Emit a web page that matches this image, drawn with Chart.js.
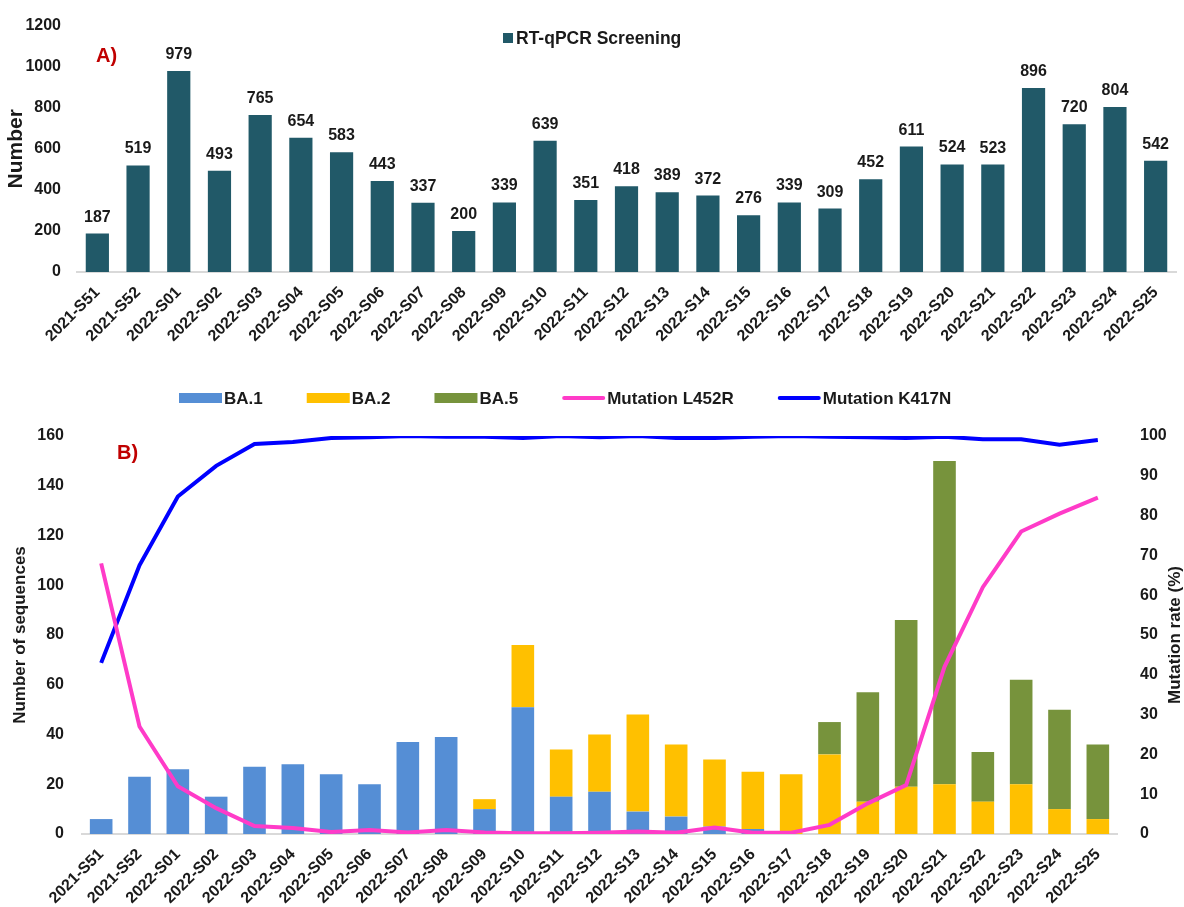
<!DOCTYPE html>
<html>
<head>
<meta charset="utf-8">
<script src="https://cdn.jsdelivr.net/npm/chart.js@4.4.1/dist/chart.umd.min.js"></script>
<style>
  body { margin: 0; background: #fff; }
  #boxA { position: absolute; left: 0; top: 0; width: 1184px; height: 365px; }
  #boxB { position: absolute; left: 0; top: 367px; width: 1184px; height: 540px; }
</style>
</head>
<body>
<div id="boxA"><canvas id="chartA"></canvas></div>
<div id="boxB"><canvas id="chartB"></canvas></div>
<script>
const weeks = [
  "2021-S51", "2021-S52", "2022-S01", "2022-S02", "2022-S03", "2022-S04", "2022-S05",
  "2022-S06", "2022-S07", "2022-S08", "2022-S09", "2022-S10", "2022-S11", "2022-S12",
  "2022-S13", "2022-S14", "2022-S15", "2022-S16", "2022-S17", "2022-S18", "2022-S19",
  "2022-S20", "2022-S21", "2022-S22", "2022-S23", "2022-S24", "2022-S25"
];

// A) RT-qPCR screening counts
const screening = [187, 519, 979, 493, 765, 654, 583, 443, 337, 200, 339, 639, 351, 418,
  389, 372, 276, 339, 309, 452, 611, 524, 523, 896, 720, 804, 542];

// B) sequences per lineage
const ba1 = [6, 23, 26, 15, 27, 28, 24, 20, 37, 39, 10, 51, 15, 17, 9, 7, 3, 2, 0, 0, 0, 0, 0, 0, 0, 0, 0];
const ba2 = [0, 0, 0, 0, 0, 0, 0, 0, 0, 0, 4, 25, 19, 23, 39, 29, 27, 23, 24, 32, 13, 19, 20, 13, 20, 10, 6];
const ba5 = [0, 0, 0, 0, 0, 0, 0, 0, 0, 0, 0, 0, 0, 0, 0, 0, 0, 0, 0, 13, 44, 67, 130, 20, 42, 40, 30];

// B) mutation rates (%)
const l452r = [68, 27, 12, 6.5, 2, 1.5, 0.5, 1, 0.4, 1, 0.4, 0.2, 0.2, 0.3, 0.6, 0.3, 1.6, 0.3, 0.3,
  2.3, 7.7, 12.3, 42, 62, 76, 80.5, 84.5];
const k417n = [43, 67.5, 84.8, 92.5, 98, 98.5, 99.5, 99.7, 100, 99.8, 99.8, 99.5, 100, 99.7, 100,
  99.5, 99.5, 99.8, 100, 99.8, 99.7, 99.5, 99.8, 99.2, 99.2, 97.8, 99];

const yTicksA = [0, 200, 400, 600, 800, 1000, 1200];

const SANS = '"Liberation Sans", Arial, sans-serif';
const INK = "#1a1a1a";

Chart.defaults.font.family = SANS;
Chart.defaults.color = INK;

const plain = (v) => String(v);

// value labels above the bars + legend + panel letter for chart A
const decorA = {
  id: "decorA",
  afterDatasetsDraw(chart) {
    const ctx = chart.ctx;
    const meta = chart.getDatasetMeta(0);
    ctx.save();
    ctx.font = "bold 16px " + SANS;
    ctx.fillStyle = INK;
    ctx.textAlign = "center";
    ctx.textBaseline = "alphabetic";
    meta.data.forEach((bar, i) => {
      ctx.fillText(chart.data.datasets[0].data[i], bar.x, bar.y - 12);
    });

    // legend
    const ds = chart.data.datasets[0];
    ctx.fillStyle = ds.backgroundColor;
    ctx.fillRect(503, 33, 10, 10);
    ctx.fillStyle = INK;
    ctx.textAlign = "left";
    ctx.textBaseline = "middle";
    ctx.font = "bold 17.5px " + SANS;
    ctx.fillText(ds.label, 516, 39);

    ctx.fillStyle = "#c00000";
    ctx.font = "bold 20px " + SANS;
    ctx.fillText("A)", 96, 56);
    ctx.restore();
  }
};

// legend, panel letter and right axis title for chart B
const decorB = {
  id: "decorB",
  afterDraw(chart) {
    const ctx = chart.ctx;
    ctx.save();
    ctx.font = "bold 17px " + SANS;
    ctx.textAlign = "left";
    ctx.textBaseline = "middle";
    let x = 179;
    const y = 31;
    chart.data.datasets.forEach((ds) => {
      if (ds.type === "line") {
        ctx.strokeStyle = ds.borderColor;
        ctx.lineWidth = 4;
        ctx.lineCap = "round";
        ctx.beginPath();
        ctx.moveTo(x + 2, y);
        ctx.lineTo(x + 41, y);
        ctx.stroke();
      } else {
        ctx.fillStyle = ds.backgroundColor;
        ctx.fillRect(x, y - 5, 43, 10);
      }
      ctx.fillStyle = INK;
      ctx.fillText(ds.label, x + 45, y + 1);
      x += 45 + ctx.measureText(ds.label).width + 44;
    });

    ctx.fillStyle = "#c00000";
    ctx.font = "bold 20px " + SANS;
    ctx.fillText("B)", 117, 86);

    // right title reads bottom-to-top like the left one
    const area = chart.chartArea;
    ctx.fillStyle = INK;
    ctx.font = "bold 17px " + SANS;
    ctx.textAlign = "center";
    ctx.translate(1175, (area.top + area.bottom) / 2);
    ctx.rotate(-Math.PI / 2);
    ctx.fillText("Mutation rate (%)", 0, 0);
    ctx.restore();
  }
};

const xTickFont = { weight: "bold", size: 16 };
const yTickFont = { weight: "bold", size: 16 };

new Chart(document.getElementById("chartA"), {
  type: "bar",
  data: {
    labels: weeks,
    datasets: [
      {
        label: "RT-qPCR Screening",
        data: screening,
        backgroundColor: "#215968",
        barPercentage: 0.57,
        categoryPercentage: 1,
      },
    ],
  },
  options: {
    responsive: true,
    maintainAspectRatio: false,
    animation: false,
    devicePixelRatio: 1,
    layout: { padding: { top: 20, right: 8, left: 0, bottom: 2 } },
    plugins: { legend: { display: false }, tooltip: { enabled: false } },
    scales: {
      x: {
        grid: { display: false },
        border: { color: "#d9d9d9", width: 2 },
        ticks: { font: xTickFont, color: INK, minRotation: 45, maxRotation: 45, autoSkip: false, padding: 3 },
        afterFit(scale) { scale.height = 91; },
      },
      y: {
        min: 0,
        max: 1200,
        afterBuildTicks(scale) { scale.ticks = yTicksA.map((v) => ({ value: v })); },
        grid: { display: false, drawTicks: false },
        border: { display: false },
        ticks: { font: yTickFont, color: INK, padding: 16, callback: plain },
        title: { display: true, text: "Number", font: { weight: "bold", size: 21 }, color: INK },
        afterFit(scale) { scale.width = 77; },
      },
    },
  },
  plugins: [decorA],
});

new Chart(document.getElementById("chartB"), {
  data: {
    labels: weeks,
    datasets: [
      { type: "bar", label: "BA.1", data: ba1, backgroundColor: "#558ed5", order: 2,
        barPercentage: 0.59, categoryPercentage: 1, yAxisID: "y" },
      { type: "bar", label: "BA.2", data: ba2, backgroundColor: "#ffc000", order: 2,
        barPercentage: 0.59, categoryPercentage: 1, yAxisID: "y" },
      { type: "bar", label: "BA.5", data: ba5, backgroundColor: "#77933c", order: 2,
        barPercentage: 0.59, categoryPercentage: 1, yAxisID: "y" },
      { type: "line", label: "Mutation L452R", data: l452r, borderColor: "#ff3bc8", borderWidth: 4,
        pointRadius: 0, tension: 0, order: 0, yAxisID: "y2" },
      { type: "line", label: "Mutation K417N", data: k417n, borderColor: "#0000ff", borderWidth: 4,
        pointRadius: 0, tension: 0, order: 1, yAxisID: "y2" },
    ],
  },
  options: {
    responsive: true,
    maintainAspectRatio: false,
    animation: false,
    devicePixelRatio: 1,
    layout: { padding: { top: 69, right: 0, left: 0, bottom: 0 } },
    plugins: { legend: { display: false }, tooltip: { enabled: false } },
    scales: {
      x: {
        stacked: true,
        grid: { display: false },
        border: { color: "#d9d9d9", width: 2 },
        ticks: { font: xTickFont, color: INK, minRotation: 45, maxRotation: 45, autoSkip: false, padding: 3 },
        afterFit(scale) { scale.height = 73; },
      },
      y: {
        stacked: true,
        position: "left",
        min: 0,
        max: 160,
        ticks: { stepSize: 20, font: yTickFont, color: INK, padding: 18, callback: plain },
        grid: { display: false, drawTicks: false },
        border: { display: false },
        title: { display: true, text: "Number of sequences", font: { weight: "bold", size: 17 },
          color: INK, padding: { top: 10, bottom: 0 } },
        afterFit(scale) { scale.width = 82; },
      },
      y2: {
        position: "right",
        min: 0,
        max: 100,
        ticks: { stepSize: 10, font: yTickFont, color: INK, padding: 23, callback: plain },
        grid: { display: false, drawTicks: false },
        border: { display: false },
        afterFit(scale) { scale.width = 67; },
      },
    },
  },
  plugins: [decorB],
});
</script>
</body>
</html>
